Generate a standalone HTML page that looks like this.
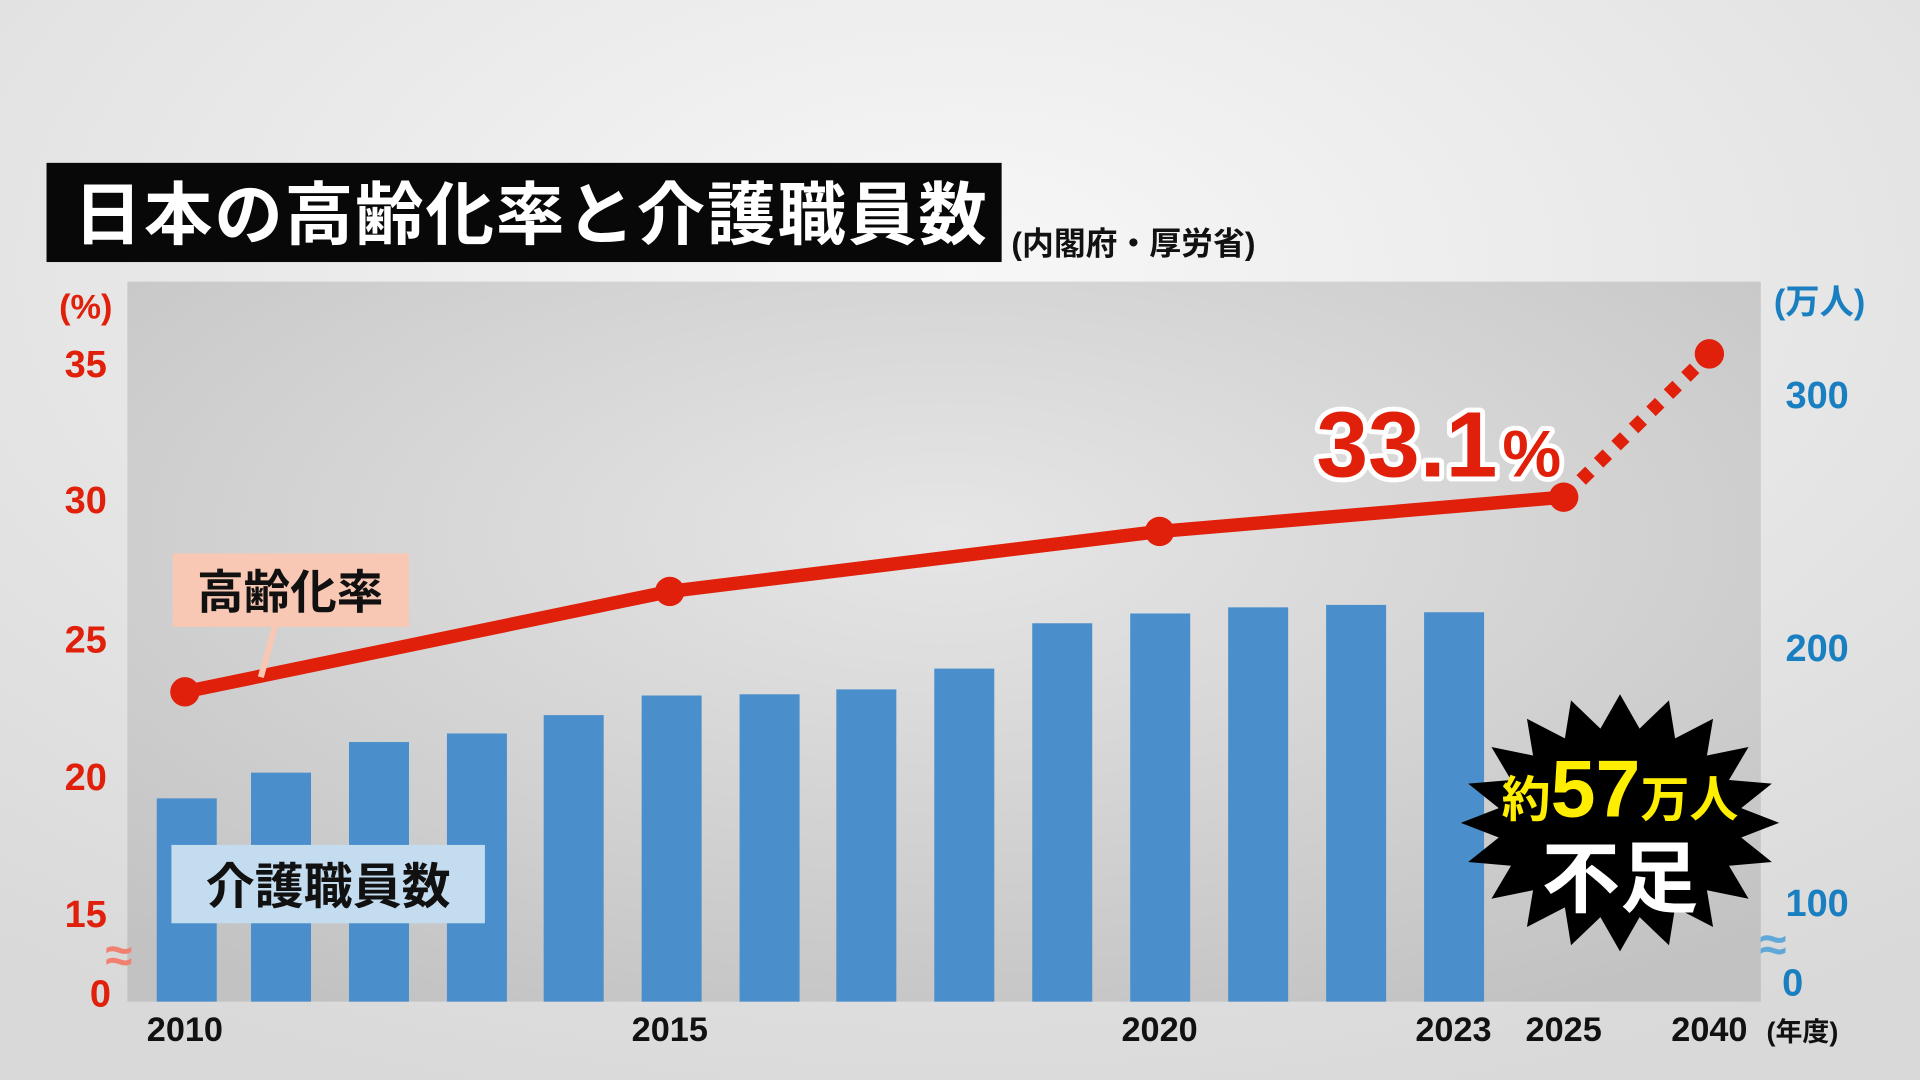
<!DOCTYPE html>
<html><head><meta charset="utf-8"><style>
html,body{margin:0;padding:0;width:1920px;height:1080px;overflow:hidden;background:#e6e6e6}
svg{display:block}
text{font-family:"Liberation Sans","Noto Sans CJK JP",sans-serif;font-weight:bold}
</style></head><body>
<svg width="1920" height="1080" viewBox="0 0 1568 882" preserveAspectRatio="none">
<defs>
<radialGradient id="bg" cx="0.5" cy="0.25" r="0.8">
<stop offset="0" stop-color="#f7f7f7"/><stop offset="1" stop-color="#d9d9d9"/></radialGradient>
<radialGradient id="pl" cx="0.5" cy="0.35" r="0.75">
<stop offset="0" stop-color="#e6e6e6"/><stop offset="1" stop-color="#c2c2c2"/></radialGradient>
</defs>
<rect width="1568" height="882" fill="url(#bg)"/>
<rect x="104" y="230" width="1334" height="588" fill="url(#pl)"/>
<rect x="38" y="133" width="780" height="81" fill="#080808"/>
<text x="60" y="195" font-size="56" fill="#fff" letter-spacing="1.5">日本の高齢化率と介護職員数</text>
<text x="826" y="208" font-size="26" fill="#111">(内閣府・厚労省)</text>
<g fill="#e0200a" font-size="31" text-anchor="middle">
<text x="70" y="260" font-size="28">(%)</text>
<text x="70" y="308">35</text><text x="70" y="419">30</text><text x="70" y="533">25</text>
<text x="70" y="645">20</text><text x="70" y="757">15</text>
<text x="97" y="794" font-size="40" fill="#f08070">≈</text>
<text x="82" y="822">0</text></g>
<g fill="#1a7fc0" font-size="31" text-anchor="middle">
<text x="1486" y="256" font-size="28">(万人)</text>
<text x="1484" y="333">300</text><text x="1484" y="540">200</text><text x="1484" y="748">100</text>
<text x="1448" y="785" font-size="40" fill="#60a8d8">≈</text>
<text x="1464" y="813">0</text></g>
<g fill="#4a8fcb">
<rect x="128" y="652" width="49" height="166"/><rect x="205" y="631" width="49" height="187"/>
<rect x="285" y="606" width="49" height="212"/><rect x="365" y="599" width="49" height="219"/>
<rect x="444" y="584" width="49" height="234"/><rect x="524" y="568" width="49" height="250"/>
<rect x="604" y="567" width="49" height="251"/><rect x="683" y="563" width="49" height="255"/>
<rect x="763" y="546" width="49" height="272"/><rect x="843" y="509" width="49" height="309"/>
<rect x="923" y="501" width="49" height="317"/><rect x="1003" y="496" width="49" height="322"/>
<rect x="1083" y="494" width="49" height="324"/><rect x="1163" y="500" width="49" height="318"/>
</g>
<polyline points="151,565 547,483 947,434 1277,406" fill="none" stroke="#e0200a" stroke-width="11"/>
<line x1="1277" y1="406" x2="1396" y2="289" stroke="#e0200a" stroke-width="11" stroke-dasharray="10,10"/>
<g fill="#e0200a"><circle cx="151" cy="565" r="12"/><circle cx="547" cy="483" r="12"/><circle cx="947" cy="434" r="12"/><circle cx="1277" cy="406" r="12"/><circle cx="1396" cy="289" r="12"/></g>
<line x1="225" y1="510" x2="213" y2="553" stroke="#f9c8b4" stroke-width="5"/>
<rect x="141" y="452" width="193" height="60" fill="#f9c8b4"/>
<text x="237" y="497" font-size="38" fill="#111" text-anchor="middle">高齢化率</text>
<rect x="140" y="690" width="256" height="64" fill="#c4dcf0"/>
<text x="268" y="738" font-size="40" fill="#111" text-anchor="middle">介護職員数</text>
<text x="1075" y="389" fill="#e0200a" stroke="#fff" stroke-width="8" paint-order="stroke" stroke-linejoin="round"><tspan font-size="76">33.1</tspan><tspan font-size="54" dx="4">%</tspan></text>
<polygon fill="#000" points="1453,672 1422,684 1447,704 1412,707 1428,734 1394,727 1399,757 1368,741 1363,772 1339,749 1323,777 1307,749 1283,772 1278,741 1247,757 1252,727 1218,734 1234,707 1199,704 1224,684 1193,672 1224,660 1199,640 1234,637 1218,610 1252,617 1247,587 1278,603 1283,572 1307,595 1323,567 1339,595 1363,572 1368,603 1399,587 1394,617 1428,610 1412,637 1447,640 1422,660"/>
<text x="1323" y="667" fill="#ffee00" text-anchor="middle"><tspan font-size="40">約</tspan><tspan font-size="66">57</tspan><tspan font-size="40">万人</tspan></text>
<text x="1323" y="740" fill="#fff" font-size="64" text-anchor="middle">不足</text>
<g fill="#111" font-size="28" text-anchor="middle">
<text x="151" y="850">2010</text><text x="547" y="850">2015</text><text x="947" y="850">2020</text>
<text x="1187" y="850">2023</text><text x="1277" y="850">2025</text><text x="1396" y="850">2040</text>
<text x="1472" y="850" font-size="22">(年度)</text></g>
</svg>
</body></html>
